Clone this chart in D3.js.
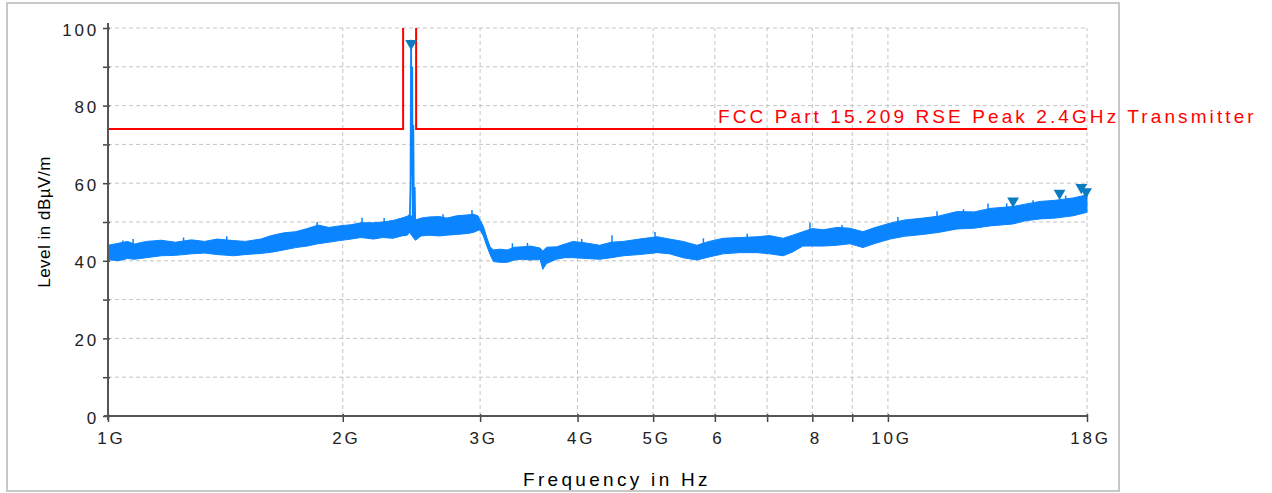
<!DOCTYPE html>
<html>
<head>
<meta charset="utf-8">
<script src="https://cdn.jsdelivr.net/npm/d3@7"></script>
<style>
  html, body { margin: 0; padding: 0; background: #fff; }
  svg { display: block; }
  text { font-family: "Liberation Sans", Arial, sans-serif; }
</style>
</head>
<body>
<svg id="chart" width="1272" height="493"></svg>
<script>
// ---- Data (frequency in GHz, level in dBµV/m) ----
const traceFreq = [1.00, 1.03, 1.06, 1.08, 1.12, 1.17, 1.22, 1.28, 1.33, 1.38, 1.45, 1.50, 1.57, 1.62, 1.68, 1.74, 1.80, 1.86, 1.92, 1.98, 2.05, 2.11, 2.19, 2.25, 2.32, 2.38, 2.42, 2.436,
  2.478, 2.52, 2.58, 2.66, 2.72, 2.80, 2.88, 2.94, 2.98, 3.00, 3.03, 3.06, 3.09, 3.12, 3.18, 3.25, 3.32, 3.40, 3.48, 3.58, 3.61, 3.65, 3.76, 3.85, 3.95,
  4.10, 4.27, 4.42, 4.58, 4.80, 5.06, 5.25, 5.46, 5.69, 5.90, 6.15, 6.45, 6.80, 7.05, 7.34, 7.55, 7.78, 8.00, 8.26, 8.60, 8.94, 9.29, 9.60,
  10.06, 10.5, 11.09, 11.6, 12.27, 12.9, 13.52, 14.47, 15.0, 15.67, 16.4, 17.28, 18.0];
const traceHigh = [44.0, 44.5, 45.0, 44.3, 45.0, 45.3, 44.8, 45.4, 45.0, 45.6, 45.2, 45.0, 45.6, 46.5, 47.2, 47.5, 48.3, 49.2, 48.6, 49.0, 49.3, 49.8, 49.8, 50.0, 50.4, 51.0, 51.5, 52.0,
  50.5, 51.0, 51.3, 51.4, 51.0, 51.6, 51.8, 52.0, 51.6, 50.5, 48.8, 46.0, 43.6, 42.8, 43.0, 42.8, 43.5, 43.6, 43.8, 43.3, 42.5, 43.5, 43.6, 44.3, 45.0,
  44.6, 44.0, 44.8, 45.0, 45.6, 46.2, 45.6, 45.0, 44.0, 45.0, 45.8, 46.0, 46.2, 46.5, 45.8, 46.6, 47.5, 48.3, 48.0, 48.6, 48.4, 47.5, 48.5,
  49.7, 50.5, 51.0, 51.5, 52.7, 52.6, 53.5, 54.0, 54.6, 55.3, 55.6, 56.2, 57.0];
const traceLow = [40.3, 40.0, 40.6, 40.4, 40.8, 41.3, 41.4, 41.8, 42.0, 41.6, 41.3, 41.6, 41.9, 42.2, 42.8, 43.4, 43.8, 44.4, 44.8, 45.2, 45.6, 46.0, 45.6, 46.0, 45.8, 46.4, 46.6, 47.3,
  45.3, 46.4, 46.6, 46.4, 46.6, 46.8, 47.0, 47.3, 47.8, 48.0, 46.3, 43.8, 41.6, 39.8, 39.6, 39.6, 40.2, 40.4, 40.2, 40.4, 37.8, 39.3, 40.4, 40.8, 40.8,
  40.6, 40.4, 40.8, 41.3, 41.6, 42.1, 41.8, 40.8, 40.2, 41.0, 41.8, 42.1, 42.1, 41.8, 41.3, 42.3, 43.8, 43.8, 43.8, 44.0, 44.4, 43.4, 44.4,
  45.6, 46.3, 46.8, 47.3, 48.2, 48.4, 49.0, 49.5, 50.3, 50.8, 51.0, 51.6, 52.5];

// narrow noise spikes
const spikeFreq = [1.045, 1.077, 1.132, 1.25, 1.42, 1.854, 2.117, 2.26, 2.689, 2.929, 3.30, 3.45, 4.05, 4.428, 5.028, 5.80, 6.60, 7.944, 8.733, 10.3, 11.56, 12.5, 13.44, 14.2, 15.35, 16.9];
const spikeLevel = [45.2, 45.6, 45.0, 46.0, 46.3, 50.0, 51.1, 51.0, 52.0, 53.1, 44.5, 44.6, 45.6, 46.6, 47.4, 45.8, 47.0, 49.8, 49.2, 51.3, 52.8, 53.3, 54.8, 54.8, 55.6, 56.8];

// carrier peak around 2.44 GHz
const peakFreq = [2.436, 2.443, 2.447, 2.451, 2.455, 2.459, 2.463, 2.468, 2.473, 2.478];
const peakLevel = [48, 60, 97, 62, 90, 47, 75, 46, 59, 47];

// markers (peak detections)
const markerFreq = [2.447, 14.47, 16.6, 17.7, 17.95];
const markerLevel = [95.0, 54.4, 56.4, 57.9, 56.8];

// limit line (FCC 15.209 peak), gap = restricted band around carrier
const limitFreq = [1, 2.39, 2.39, null, 2.4835, 2.4835, 18];
const limitLevel = [74, 74, 100, null, 100, 74, 74];
const limitLabel = "FCC Part 15.209 RSE Peak 2.4GHz Transmitter";

// axis ticks
const xTickValues = [1, 2, 3, 4, 5, 6, 7, 8, 9, 10, 18];
const xTickLabels = ["1G", "2G", "3G", "4G", "5G", "6", "", "8", "", "10G", "18G"];
const yTickValues = [0, 10, 20, 30, 40, 50, 60, 70, 80, 90, 100];
const yTickLabels = ["0", "", "20", "", "40", "", "60", "", "80", "", "100"];
const xTitle = "Frequency in Hz";
const yTitle = "Level in dBµV/m";

// ---- Drawing ----
const svg = d3.select("#chart");
const x = d3.scaleLog().domain([1, 18]).range([108, 1087]);
const y = d3.scaleLinear().domain([0, 100]).range([416, 28]);

// outer frame
svg.append("rect").attr("x", 7).attr("y", 3).attr("width", 1112).attr("height", 488)
  .attr("fill", "none").attr("stroke", "#c8c8c8").attr("stroke-width", 2);

// grid
const grid = svg.append("g");
grid.selectAll("line.h").data(yTickValues.filter(v => v > 0)).join("line")
  .attr("x1", x(1)).attr("x2", x(18)).attr("y1", d => y(d)).attr("y2", d => y(d))
  .attr("stroke", "#c4c4c4").attr("stroke-dasharray", "4,3").attr("stroke-width", 1);
grid.selectAll("line.v").data(xTickValues.filter(v => v > 1)).join("line")
  .attr("x1", d => x(d)).attr("x2", d => x(d)).attr("y1", y(0)).attr("y2", y(100))
  .attr("stroke", "#c4c4c4").attr("stroke-dasharray", "4,3").attr("stroke-width", 1);

// trace band
const traceData = traceFreq.map((f, i) => ({ f, hi: traceHigh[i], lo: traceLow[i] }));
const area = d3.area().x(d => x(d.f)).y0(d => y(d.lo)).y1(d => y(d.hi));
svg.append("path").datum(traceData).attr("d", area)
  .attr("fill", "#0a84ff").attr("stroke", "#0a84ff").attr("stroke-width", 1);

// spikes
const hiAt = d3.scaleLinear().domain(traceFreq).range(traceHigh);
svg.append("g").selectAll("line").data(spikeFreq.map((f, i) => ({ f, v: spikeLevel[i] }))).join("line")
  .attr("x1", d => x(d.f)).attr("x2", d => x(d.f))
  .attr("y1", d => y(hiAt(d.f) - 1)).attr("y2", d => y(d.v))
  .attr("stroke", "#0a84ff").attr("stroke-width", 1.5);

// carrier peak
const peakData = peakFreq.map((f, i) => ({ f, v: peakLevel[i] }));
svg.append("path").datum(peakData)
  .attr("d", d3.line().x(d => x(d.f)).y(d => y(d.v)))
  .attr("fill", "none").attr("stroke", "#0a84ff").attr("stroke-width", 1.8);

// limit line
const limitData = limitFreq.map((f, i) => ({ f, v: limitLevel[i] }));
svg.append("path").datum(limitData)
  .attr("d", d3.line().defined(d => d.f !== null).x(d => x(d.f)).y(d => y(d.v)))
  .attr("fill", "none").attr("stroke", "#ff0000").attr("stroke-width", 2);
svg.append("text").attr("x", 718).attr("y", 123)
  .attr("fill", "#ff0000").attr("font-size", 19).attr("letter-spacing", 3.1)
  .text(limitLabel);

// markers
const tri = d3.symbol().type(d3.symbolTriangle).size(60);
svg.append("g").selectAll("path").data(markerFreq.map((f, i) => ({ f, v: markerLevel[i] }))).join("path")
  .attr("d", tri)
  .attr("transform", d => `translate(${x(d.f)},${y(d.v) - 4}) rotate(180)`)
  .attr("fill", "#0b7cc0");

// axes
const xAxis = d3.axisBottom(x).tickValues(xTickValues)
  .tickFormat((d, i) => xTickLabels[i]).tickSizeOuter(0).tickSizeInner(6).tickPadding(10);
const gx = svg.append("g").attr("transform", `translate(0,${y(0)})`).call(xAxis);
gx.select(".domain").remove();
gx.selectAll(".tick line").attr("y1", -2).attr("y2", 6).attr("stroke", "#444").attr("stroke-width", 1.5);
gx.selectAll(".tick text").attr("font-size", 17).attr("letter-spacing", 2.8)
  .attr("fill", "#222").attr("font-family", "Liberation Sans, Arial, sans-serif").attr("dx", 3);

const yAxis = d3.axisLeft(y).tickValues(yTickValues)
  .tickFormat((d, i) => yTickLabels[i]).tickSizeOuter(0).tickSizeInner(5).tickPadding(4);
const gy = svg.append("g").attr("transform", `translate(${x(1)},0)`).call(yAxis);
gy.select(".domain").remove();
gy.selectAll(".tick line").attr("x1", -5).attr("x2", 2).attr("stroke", "#444").attr("stroke-width", 1.5);
gy.selectAll(".tick text").attr("font-size", 17).attr("letter-spacing", 2.8)
  .attr("fill", "#222").attr("font-family", "Liberation Sans, Arial, sans-serif").attr("dy", "0.42em");

// axis lines
svg.append("line").attr("x1", x(1)).attr("x2", x(1)).attr("y1", y(100) - 5).attr("y2", y(0) + 4)
  .attr("stroke", "#555").attr("stroke-width", 2);
svg.append("line").attr("x1", x(1) - 4).attr("x2", x(18)).attr("y1", y(0)).attr("y2", y(0))
  .attr("stroke", "#555").attr("stroke-width", 2);

// titles
svg.append("text").attr("x", 617).attr("y", 486).attr("text-anchor", "middle")
  .attr("font-size", 19).attr("letter-spacing", 3.3).attr("fill", "#000").text(xTitle);
svg.append("text").attr("transform", "translate(50,222) rotate(-90)").attr("text-anchor", "middle")
  .attr("font-size", 17).attr("letter-spacing", 0.5).attr("fill", "#000").text(yTitle);
</script>
</body>
</html>
